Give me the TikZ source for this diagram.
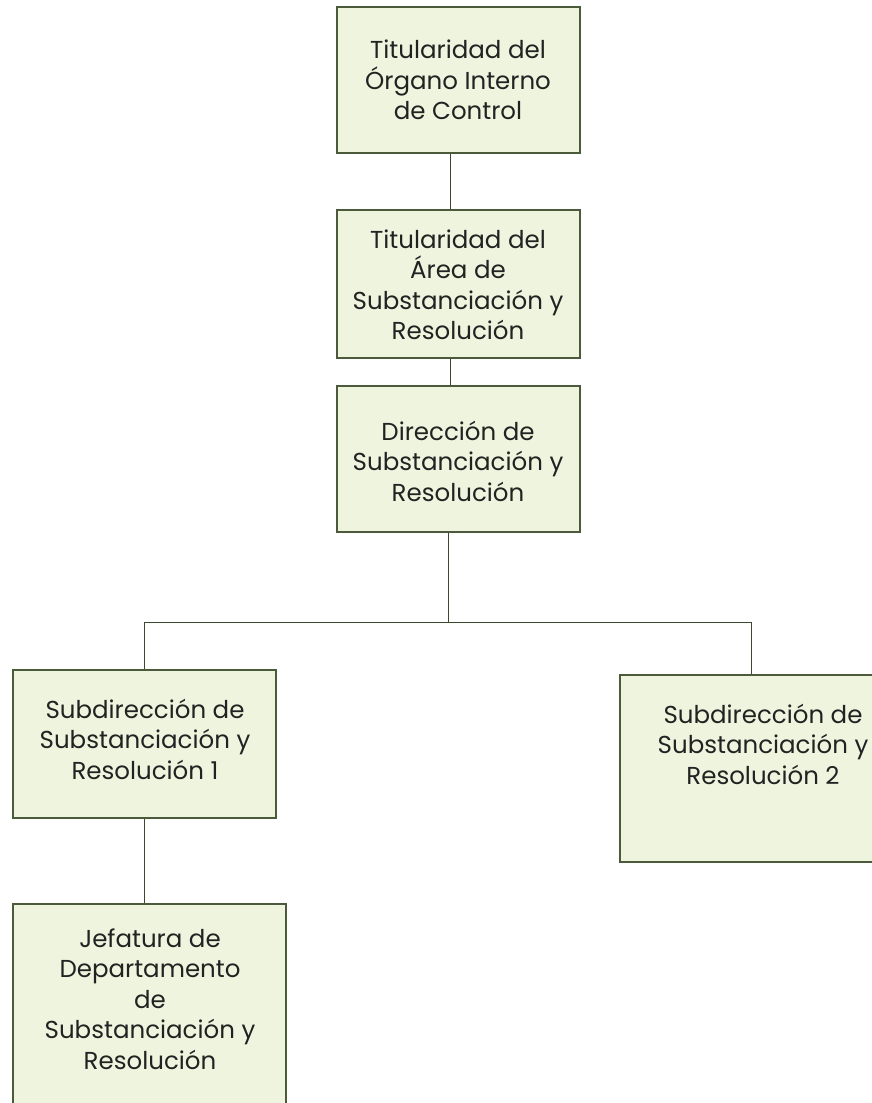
\documentclass[tikz,border=0pt]{standalone}
\usepackage{fontspec}
\setmainfont{Poppins}
\definecolor{boxfill}{HTML}{EEF4DE}
\definecolor{boxline}{HTML}{4A5A3A}
\definecolor{txt}{HTML}{222222}
\begin{document}
\begin{tikzpicture}[x=1pt,y=-1pt,
  orgbox/.style={draw=boxline, fill=boxfill, line width=1.2pt, inner sep=0pt},
  orgtext/.style={align=center, text=txt, font=\fontsize{24.5}{30.5}\selectfont, inner sep=0pt},
  link/.style={draw=boxline!80!black, line width=1pt}]
\useasboundingbox (0,0) rectangle (872,1103);
\clip (0,0) rectangle (872,1103);
% boxes
\node[orgbox, minimum width=243pt, minimum height=146pt] (b1) at (458.5,80) {};
\node[orgbox, minimum width=243pt, minimum height=148pt] (b2) at (458.5,284) {};
\node[orgbox, minimum width=243pt, minimum height=146pt] (b3) at (458.5,459) {};
\node[orgbox, minimum width=263pt, minimum height=148pt] (b4) at (144.5,744) {};
\node[orgbox, minimum width=290pt, minimum height=187pt] (b5) at (765,768.5) {};
\node[orgbox, minimum width=273pt, minimum height=240pt] (b6) at (149.5,1024) {};
% texts
\node[orgtext] (t1) at (458,80) {Titularidad del\\Órgano Interno\\de Control};
\node[orgtext] (t2) at (458,285) {Titularidad del\\Área de\\Substanciación y\\Resolución};
\node[orgtext] (t3) at (458,461) {Dirección de\\Substanciación y\\Resolución};
\node[orgtext] (t4) at (145,739) {Subdirección de\\Substanciación y\\Resolución 1};
\node[orgtext] (t5) at (763,744) {Subdirección de\\Substanciación y\\Resolución 2};
\node[orgtext] (t6) at (150,999) {Jefatura de\\Departamento\\de\\Substanciación y\\Resolución};
% connectors
\coordinate (c12) at (450,0);
\coordinate (bar) at (448,622);
\coordinate (barL) at (144,622);
\coordinate (barR) at (751,622);
\draw[link] (b1.south -| c12) -- (b2.north -| c12);
\draw[link] (b2.south -| c12) -- (b3.north -| c12);
\draw[link] (b3.south -| bar) -- (bar);
\draw[link] (barL) -- (barR);
\draw[link] (barL) -- (barL |- b4.north);
\draw[link] (barR) -- (barR |- b5.north);
\draw[link] (b4.south -| barL) -- (barL |- b6.north);
\end{tikzpicture}
\end{document}
